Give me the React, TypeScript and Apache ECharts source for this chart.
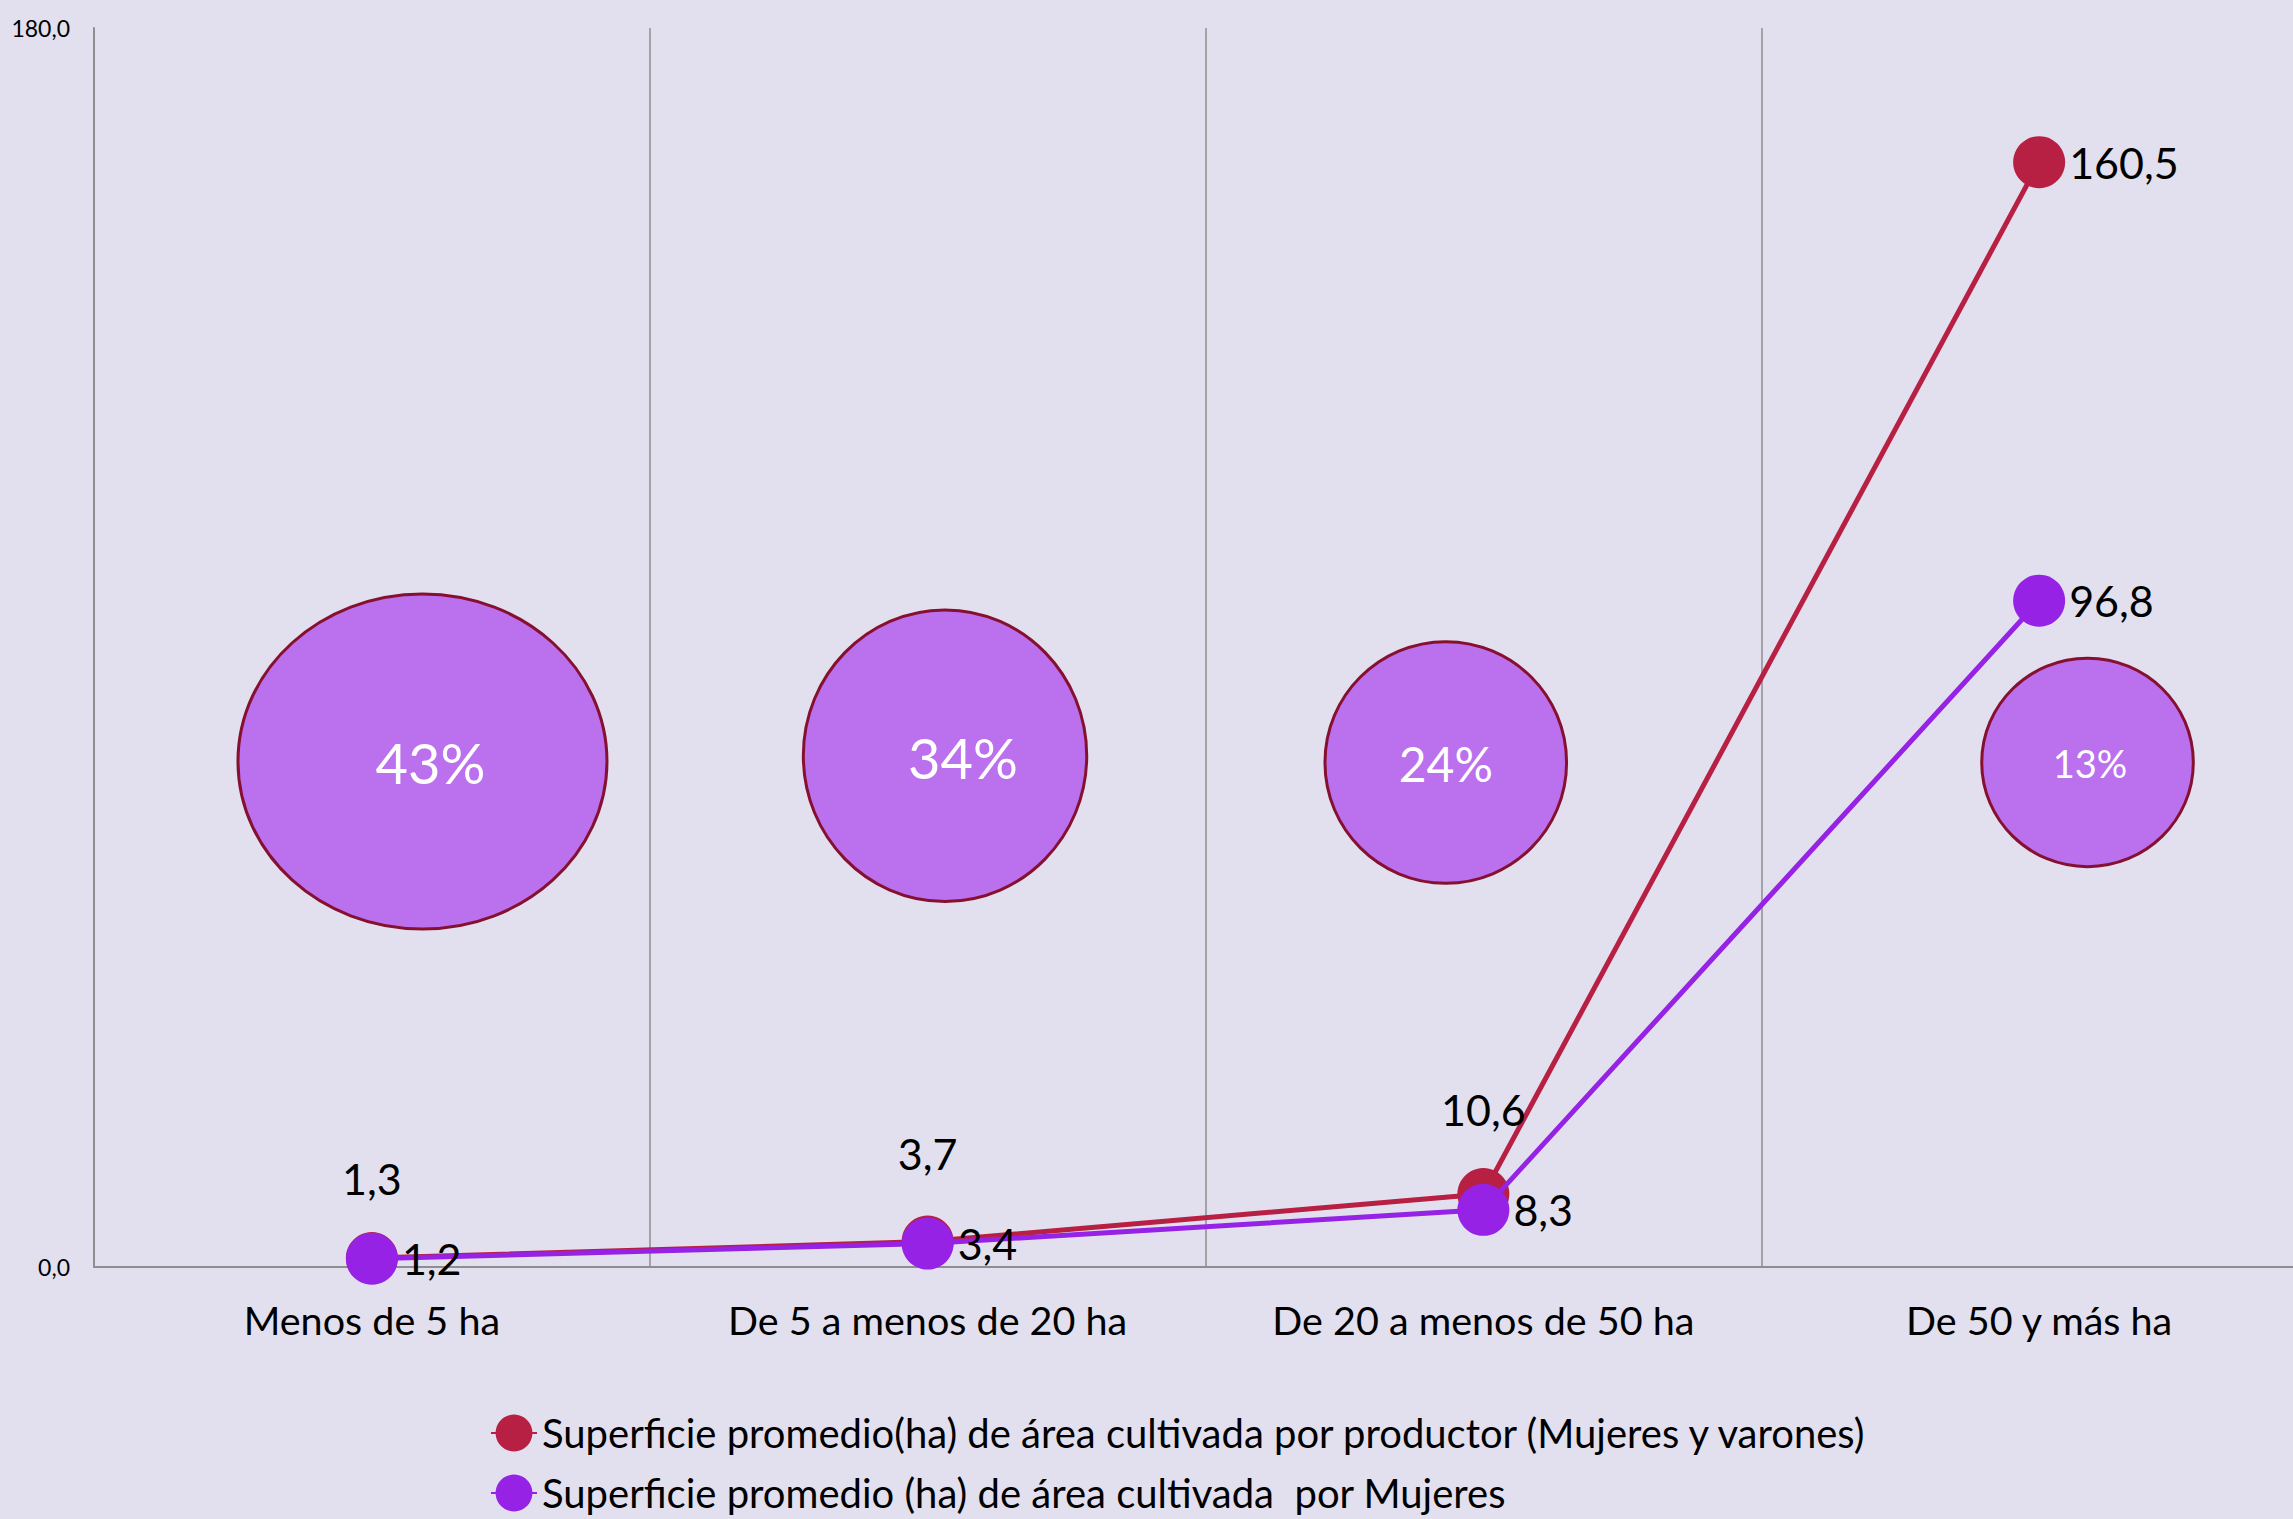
import React, { useEffect, useRef } from "react";
import * as echarts from "echarts";

const categories = [
  "Menos de 5 ha",
  "De 5 a menos de 20 ha",
  "De 20 a menos de 50 ha",
  "De 50 y más ha",
];
const totalAvg = [1.3, 3.7, 10.6, 160.5];
const womenAvg = [1.2, 3.4, 8.3, 96.8];
const womenShare = [43, 34, 24, 13];
const yMin = 0;
const yMax = 180;

const totalName =
  "Superficie promedio(ha) de área cultivada por productor (Mujeres y varones)";
const womenName = "Superficie promedio (ha) de área cultivada  por Mujeres";

// layout of the share bubbles (pixels, relative to category centre / anchor)
const bubbleAnchor = 73.3;
const bubbleLayout = [
  { dx: 50.6, dy: -1, rx: 184.5, ry: 167.5, tdx: 8, tdy: 1, fs: 56 },
  { dx: 17.4, dy: -6.7, rx: 141.7, ry: 145.8, tdx: 18, tdy: 2, fs: 56 },
  { dx: -37.6, dy: 0, rx: 120.8, ry: 120.8, tdx: 0, tdy: 1, fs: 48 },
  { dx: 48.4, dy: 0, rx: 105.8, ry: 104.2, tdx: 2.5, tdy: 1, fs: 38 },
];
const redTopDistance = [32, 41, 37];

const FONT = "Lato, 'Noto Sans', sans-serif";
const RED = "#B71F43";
const PURPLE = "#9522E5";
const fmt = (v: number) => v.toFixed(1).replace(".", ",");

const legendBase = {
  orient: "horizontal",
  left: 485,
  itemWidth: 46,
  itemHeight: 46,
  textStyle: {
    fontSize: 40,
    lineHeight: 40,
    color: "#000",
    fontFamily: FONT,
    padding: [0, 0, 0, 0],
  },
};

export default function App() {
  const ref = useRef<HTMLDivElement>(null);
  useEffect(() => {
    document.body.style.margin = "0";
    document.body.style.overflow = "hidden";
    const chart = echarts.init(ref.current!, null, { renderer: "svg" });
    chart.setOption({
      animation: false,
      backgroundColor: "#E2DFEE",
      textStyle: { fontFamily: FONT },
      grid: { left: 94, top: 28, right: 3, bottom: 252 },
      legend: [
        { ...legendBase, top: 1408, data: [totalName] },
        { ...legendBase, top: 1468, data: [womenName] },
      ],
      xAxis: {
        type: "category",
        data: categories,
        boundaryGap: true,
        axisLine: { lineStyle: { color: "#8E8E8E", width: 2 } },
        axisTick: { show: false },
        splitLine: { show: true, lineStyle: { color: "#8E8E8E", width: 1.5 } },
        axisLabel: { fontSize: 39.5, color: "#000", margin: 32, fontFamily: FONT },
      },
      yAxis: {
        type: "value",
        min: yMin,
        max: yMax,
        interval: yMax - yMin,
        axisLine: { show: true, lineStyle: { color: "#8E8E8E", width: 2 } },
        axisTick: { show: false },
        splitLine: { show: false },
        axisLabel: {
          fontSize: 23,
          color: "#000",
          margin: 24,
          fontFamily: FONT,
          formatter: (v: number) => fmt(v),
        },
      },
      series: [
        {
          type: "custom",
          z: 1,
          silent: true,
          data: womenShare.map((p, i) => [i, p]),
          renderItem: (params: any, api: any) => {
            const i = api.value(0);
            const p = api.coord([i, bubbleAnchor]);
            const L = bubbleLayout[i];
            const cx = p[0] + L.dx;
            const cy = p[1] + L.dy;
            return {
              type: "group",
              children: [
                {
                  type: "ellipse",
                  shape: { cx, cy, rx: L.rx, ry: L.ry },
                  style: { fill: "#BB70EE", stroke: "#86102F", lineWidth: 3 },
                },
                {
                  type: "text",
                  x: cx + L.tdx,
                  y: cy + L.tdy,
                  style: {
                    text: api.value(1) + "%",
                    fill: "#FFFFFF",
                    fontSize: L.fs,
                    fontFamily: FONT,
                    align: "center",
                    verticalAlign: "middle",
                  },
                },
              ],
            };
          },
        },
        {
          name: totalName,
          type: "line",
          z: 3,
          data: totalAvg.map((v, i) => ({
            value: v,
            label:
              i === totalAvg.length - 1
                ? { position: "right", distance: 4 }
                : { position: "top", distance: redTopDistance[i] },
          })),
          symbol: "circle",
          symbolSize: 52,
          lineStyle: { color: RED, width: 5 },
          itemStyle: { color: RED },
          label: {
            show: true,
            fontSize: 43,
            color: "#000",
            fontFamily: FONT,
            formatter: (p: any) => fmt(p.value),
          },
        },
        {
          name: womenName,
          type: "line",
          z: 4,
          data: womenAvg,
          symbol: "circle",
          symbolSize: 52,
          lineStyle: { color: PURPLE, width: 5 },
          itemStyle: { color: PURPLE },
          label: {
            show: true,
            position: "right",
            distance: 4,
            fontSize: 43,
            color: "#000",
            fontFamily: FONT,
            formatter: (p: any) => fmt(p.value),
          },
        },
      ],
    });
    return () => chart.dispose();
  }, []);
  return (
    <div style={{ width: 2293, height: 1519, overflow: "hidden", position: "relative" }}>
      <div ref={ref} style={{ width: 2320, height: 1519 }} />
    </div>
  );
}
